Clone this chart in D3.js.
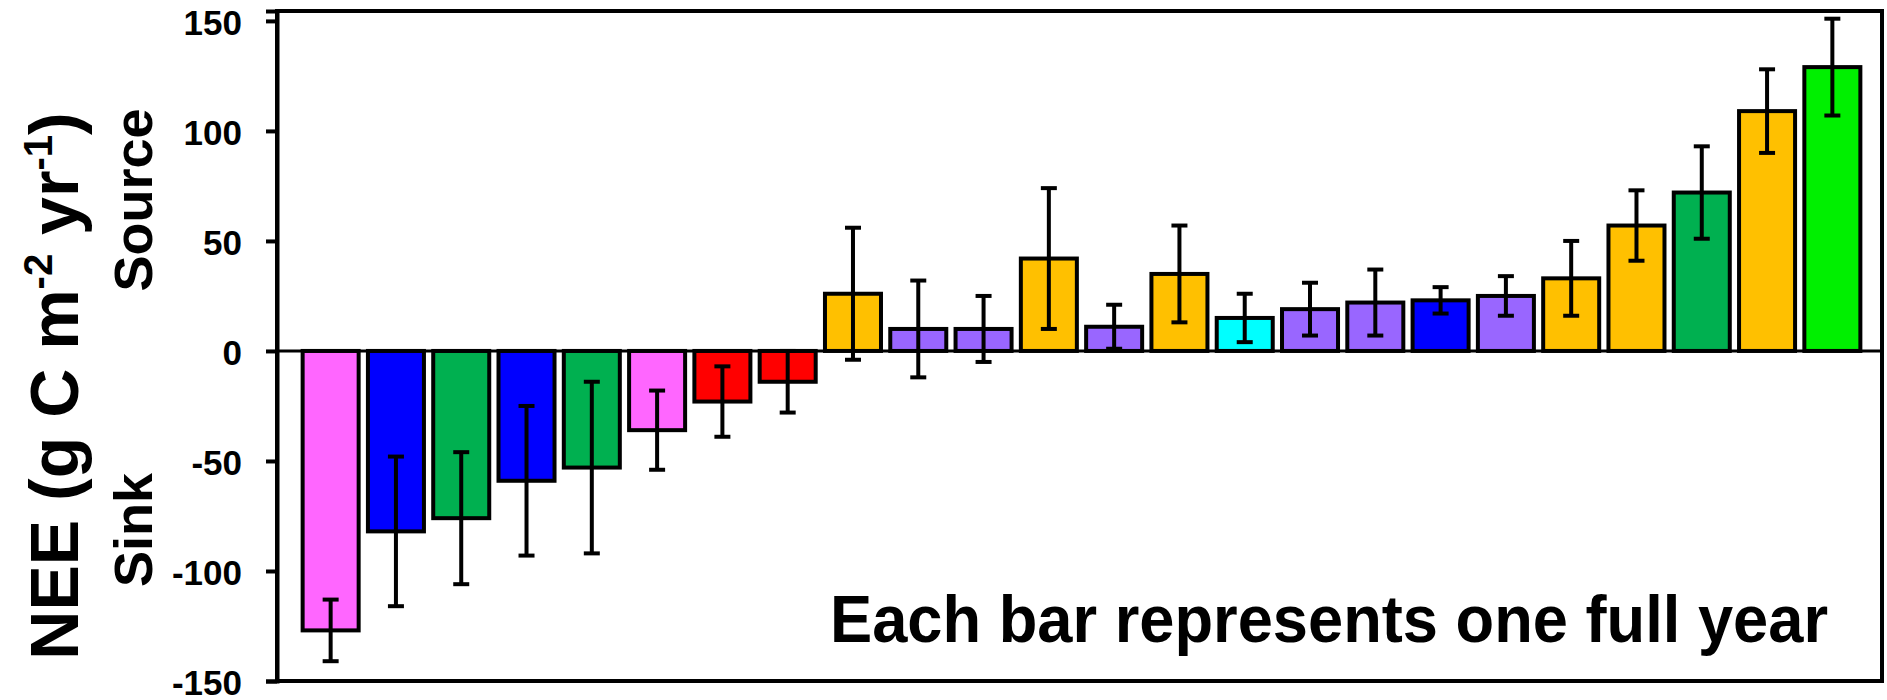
<!DOCTYPE html>
<html>
<head>
<meta charset="utf-8">
<script src="https://cdn.jsdelivr.net/npm/d3@7"></script>
<style>
  html, body { margin: 0; padding: 0; background: #fff; }
  svg { display: block; }
  text { font-family: "Liberation Sans", Arial, Helvetica, sans-serif; font-weight: bold; fill: #000; }
</style>
</head>
<body>
<svg id="chart" width="1887" height="700"></svg>
<script>
// ---- data ----
const barIds = d3.range(1, 25).map(String);
const neeValues = [-127, -82, -76, -59, -53, -36, -23, -14, 26, 10, 10, 42, 11, 35, 15, 19, 22, 23, 25, 33, 57, 72, 109, 129];
const neeErrors = [14, 34, 30, 34, 39, 18, 16, 14, 30, 22, 15, 32, 10, 22, 11, 12, 15, 6, 9, 17, 16, 21, 19, 22];
const barGroups = ["pink", "blue", "green", "blue", "green", "pink", "red", "red", "orange", "purple", "purple", "orange",
                   "purple", "orange", "cyan", "purple", "purple", "blue", "purple", "orange", "orange", "green", "orange", "lime"];
const groupNames = ["pink", "blue", "green", "red", "orange", "purple", "cyan", "lime"];
const groupColors = ["#FF66FF", "#0000FF", "#00B050", "#FF0000", "#FFC000", "#9966FF", "#00FFFF", "#00F000"];
const yTicks = [-150, -100, -50, 0, 50, 100, 150];

const data = barIds.map((id, i) => ({ id, v: neeValues[i], e: neeErrors[i], g: barGroups[i] }));

// ---- layout ----
const svg = d3.select("#chart");
const frame = { left: 277, right: 1882, top: 11, bottom: 681 };

const x = d3.scaleBand().domain(barIds).range([298, 1865]).paddingInner(0.142).paddingOuter(0.071);
const y = d3.scaleLinear().domain([-150, 154.5]).range([frame.bottom, frame.top]);
const color = d3.scaleOrdinal().domain(groupNames).range(groupColors);

// bars
svg.append("g").selectAll("rect").data(data).join("rect")
  .attr("x", d => x(d.id))
  .attr("width", x.bandwidth())
  .attr("y", d => Math.min(y(d.v), y(0)))
  .attr("height", d => Math.abs(y(d.v) - y(0)))
  .attr("fill", d => color(d.g))
  .attr("stroke", "#000")
  .attr("stroke-width", 4);

// zero line
svg.append("line")
  .attr("x1", frame.left).attr("x2", frame.right)
  .attr("y1", y(0)).attr("y2", y(0))
  .attr("stroke", "#000").attr("stroke-width", 3);

// error bars
const eb = svg.append("g").attr("stroke", "#000").attr("stroke-width", 4);
const capW = 8;
data.forEach(d => {
  const cx = x(d.id) + x.bandwidth() / 2;
  eb.append("line").attr("x1", cx).attr("x2", cx).attr("y1", y(d.v + d.e)).attr("y2", y(d.v - d.e));
  eb.append("line").attr("x1", cx - capW).attr("x2", cx + capW).attr("y1", y(d.v + d.e)).attr("y2", y(d.v + d.e));
  eb.append("line").attr("x1", cx - capW).attr("x2", cx + capW).attr("y1", y(d.v - d.e)).attr("y2", y(d.v - d.e));
});

// frame
svg.append("rect")
  .attr("x", frame.left).attr("y", frame.top)
  .attr("width", frame.right - frame.left).attr("height", frame.bottom - frame.top)
  .attr("fill", "none").attr("stroke", "#000").attr("stroke-width", 4);

// y axis
const yAxis = svg.append("g")
  .attr("transform", `translate(${frame.left},0)`)
  .call(d3.axisLeft(y).tickValues(yTicks).tickSize(11).tickPadding(24).tickFormat(d => String(d)));
yAxis.select(".domain").attr("stroke", "#000").attr("stroke-width", 4);
yAxis.selectAll(".tick line").attr("stroke", "#000").attr("stroke-width", 4);
yAxis.selectAll(".tick text")
  .style("font-family", '"Liberation Sans", Arial, sans-serif')
  .style("font-weight", "bold")
  .style("font-size", "35px")
  .attr("dy", "0.38em")
  .attr("fill", "#000");

// axis title
const title = svg.append("text")
  .attr("transform", "translate(78,386) rotate(-90)")
  .attr("text-anchor", "middle")
  .style("font-size", "68px");
title.append("tspan").text("NEE (g C m");
title.append("tspan").attr("dy", -26).style("font-size", "40px").text("-2");
title.append("tspan").attr("dy", 26).text(" yr");
title.append("tspan").attr("dy", -26).style("font-size", "40px").text("-1");
title.append("tspan").attr("dy", 26).text(")");

svg.append("text")
  .attr("transform", "translate(152,200) rotate(-90)")
  .attr("text-anchor", "middle")
  .style("font-size", "54px")
  .text("Source");
svg.append("text")
  .attr("transform", "translate(152,530) rotate(-90)")
  .attr("text-anchor", "middle")
  .style("font-size", "54px")
  .text("Sink");

// annotation
svg.append("text")
  .attr("x", 830).attr("y", 642)
  .attr("textLength", 998).attr("lengthAdjust", "spacingAndGlyphs")
  .style("font-size", "66px")
  .text("Each bar represents one full year");
</script>
</body>
</html>
